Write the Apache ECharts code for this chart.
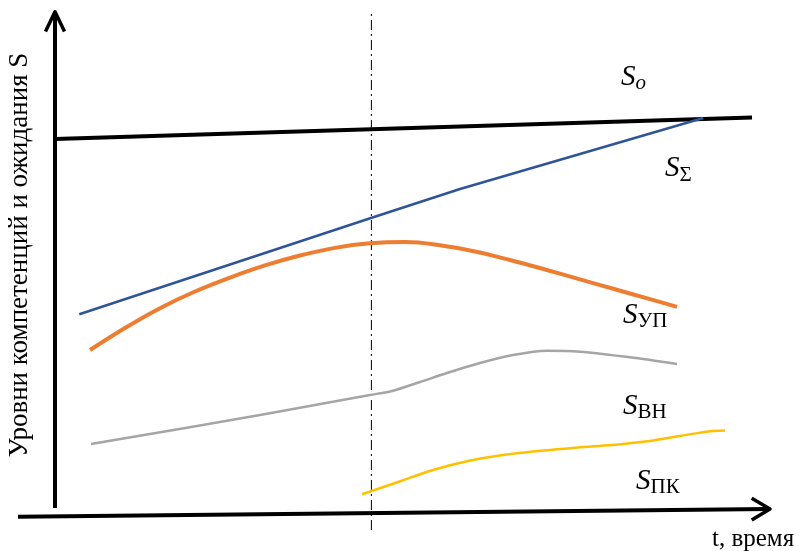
<!DOCTYPE html>
<html>
<head>
<meta charset="utf-8">
<script src="https://cdn.jsdelivr.net/npm/echarts@6/dist/echarts.min.js"></script>
<style>
html,body{margin:0;padding:0;background:#fff;}
#chart{width:800px;height:551px;}
</style>
</head>
<body>
<div id="chart"></div>
<script>
// t — time, S — level (arbitrary units)
const sO     = [[0, 8.22], [9.957, 8.70]];
const sSigma = [[0.347, 4.327], [4.514, 6.467], [5.786, 7.111], [9.261, 8.689]];
const sUP    = [[0.5, 3.533], [1.0, 4.023], [1.5, 4.463], [2.0, 4.833], [2.5, 5.143],
                [3.0, 5.413], [3.5, 5.633], [4.0, 5.803], [4.5, 5.903], [5.0, 5.933],
                [5.5, 5.863], [6.0, 5.723], [6.5, 5.533], [7.0, 5.323], [7.5, 5.103],
                [8.0, 4.883], [8.5, 4.663], [8.886, 4.493]];
const sVN    = [[0.514, 1.444], [2.929, 2.089], [4.5, 2.533], [4.829, 2.629],
                [5.214, 2.822], [5.6, 3.022], [6.071, 3.244], [6.543, 3.422],
                [7.029, 3.518], [7.5, 3.496], [8.214, 3.371], [8.886, 3.222]];
const sPK    = [[4.386, 0.327], [4.9, 0.6], [5.4, 0.867], [5.9, 1.067], [6.4, 1.2],
                [6.9, 1.289], [7.4, 1.356], [7.9, 1.415], [8.4, 1.495], [8.9, 1.615],
                [9.4, 1.735], [9.571, 1.745]];
const tMark  = 4.52;               // moment marked by the dash-dot line
const yTitle = 'Уровни компетенций и ожидания S';
const xTitle = 't, время';

const chart = echarts.init(document.getElementById('chart'), null, {renderer: 'canvas'});

function ln(data, color, width, extra) {
  return Object.assign({
    type: 'line', data: data, symbol: 'none', showSymbol: false, silent: true,
    clip: false, animation: false,
    lineStyle: {color: color, width: width, cap: 'butt', join: 'round'}
  }, extra || {});
}

const serif = '"Liberation Serif", "DejaVu Serif", serif';
function sLabel(x, y, sub, subStyle) {
  return {
    type: 'text', x: x, y: y, silent: true,
    style: {
      text: '{s|S}{b|' + sub + '}',
      align: 'left', verticalAlign: 'middle',
      rich: {
        s: {fontFamily: serif, fontStyle: 'italic', fontSize: 29, fill: '#000', color: '#000'},
        b: Object.assign({fontFamily: serif, fontSize: 21, fill: '#000', color: '#000', padding: [12, 0, 0, 0]}, subStyle || {})
      }
    }
  };
}

const option = {
  backgroundColor: '#fff',
  animation: false,
  grid: {left: 20, right: 10, top: 5, bottom: 6},
  xAxis: {type: 'value', min: -0.5, max: 10.5, show: false},
  yAxis: {type: 'value', min: -0.8, max: 11.2, show: false},
  series: [
    // axes with open arrow heads
    ln([[0, 0.02], [0, 11.0]], '#000', 4),
    ln([[-0.136, 10.61], [0, 11.05], [0.136, 10.61]], '#000', 3.5),
    ln([[-0.529, -0.171], [10.2, 0]], '#000', 4),
    ln([[9.953, 0.238], [10.214, 0], [9.953, -0.244]], '#000', 3.5),
    // dash-dot marker
    ln([[tMark, -0.467], [tMark, 11.09]], '#000', 1, {lineStyle: {color: '#000', width: 1, type: [10, 4, 2, 4]}}),
    ln(sO, '#000', 4),
    ln(sSigma, '#2F5597', 2.5),
    ln(sUP, '#ED7D31', 4, {smooth: 0.4}),
    ln(sVN, '#A5A5A5', 2.5, {smooth: 0.3}),
    ln(sPK, '#FFC000', 2.5, {smooth: 0.4})
  ],
  graphic: [
    {
      type: 'text', x: 20, y: 255, rotation: Math.PI / 2, silent: true,
      style: {text: yTitle, align: 'center', verticalAlign: 'middle', fontFamily: serif, fontSize: 27, fill: '#000'}
    },
    {
      type: 'text', x: 712, y: 539, silent: true,
      style: {text: xTitle, align: 'left', verticalAlign: 'middle', fontFamily: serif, fontSize: 25, fill: '#000'}
    },
    sLabel(621, 77, 'o', {fontStyle: 'italic', padding: [12, 0, 0, 0]}),
    sLabel(665, 168, 'Σ', {padding: [15, 0, 0, 0]}),
    sLabel(623, 315, 'УП'),
    sLabel(623, 406, 'ВН'),
    sLabel(636, 481, 'ПК')
  ]
};
chart.setOption(option);
</script>
</body>
</html>
